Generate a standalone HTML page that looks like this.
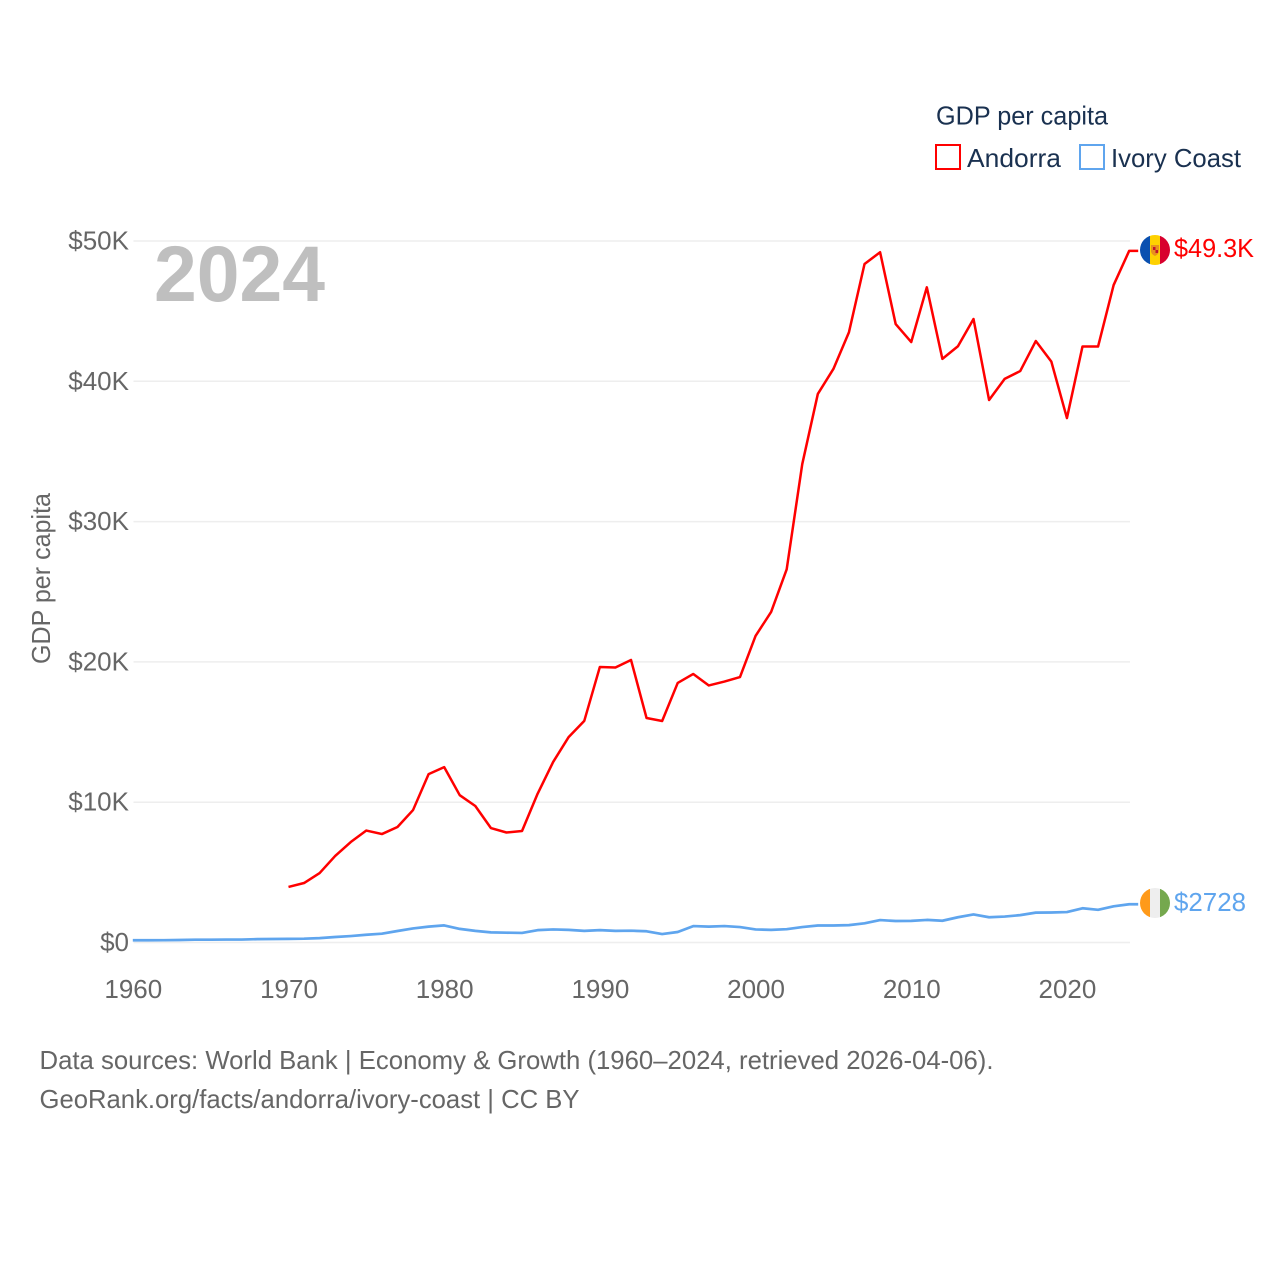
<!DOCTYPE html>
<html lang="en">
<head>
<meta charset="utf-8">
<title>GDP per capita: Andorra and Ivory Coast</title>
<style>
html,body{margin:0;padding:0;background:#fff;width:1280px;height:1280px;overflow:hidden}
svg{display:block}
text{font-family:"Liberation Sans",sans-serif;font-size:26px}
</style>
</head>
<body>
<svg id="chart" xmlns="http://www.w3.org/2000/svg" width="1280" height="1280" viewBox="0 0 1280 1280">
  <g id="grid"></g>
  <g id="yticks"></g>
  <g id="xticks"></g>
  <text x="154" y="301" font-weight="700" fill="#bfbfbf" style="font-size:79px" textLength="171" lengthAdjust="spacingAndGlyphs">2024</text>
  <text transform="translate(50,664) rotate(-90)" fill="#666666" textLength="171" lengthAdjust="spacingAndGlyphs">GDP per capita</text>
  <g id="series"></g>

  <g>
    <text x="936" y="124.500" fill="#1a3150" textLength="172" lengthAdjust="spacingAndGlyphs">GDP per capita</text>
    <rect x="936" y="145" width="24" height="24" fill="none" stroke="#ff0000" stroke-width="2"/>
    <text x="967" y="167" fill="#1a3150" textLength="94" lengthAdjust="spacingAndGlyphs">Andorra</text>
    <rect x="1080" y="145" width="24" height="24" fill="none" stroke="#5fa5ee" stroke-width="2"/>
    <text x="1111" y="167" fill="#1a3150" textLength="130" lengthAdjust="spacingAndGlyphs">Ivory Coast</text>
  </g>

  <defs>
    <clipPath id="flag-clip-a"><circle cx="1155" cy="250" r="15"/></clipPath>
    <clipPath id="flag-clip-b"><circle cx="1155" cy="903" r="15"/></clipPath>
  </defs>
  <g id="flag-andorra" clip-path="url(#flag-clip-a)">
    <rect x="1140" y="235" width="10" height="30" fill="#0a50b0"/>
    <rect x="1150" y="235" width="10" height="30" fill="#fed100"/>
    <rect x="1160" y="235" width="10" height="30" fill="#d8002e"/>
    <path d="M1151 245h8v6q0 3-4 5q-4-2-4-5z" fill="#e8901e"/>
    <rect x="1153" y="247" width="2.500" height="3" fill="#c0122c"/>
    <rect x="1155.500" y="250" width="2.500" height="3" fill="#c0122c"/>
  </g>
  <g id="flag-ivory" clip-path="url(#flag-clip-b)">
    <rect x="1140" y="888" width="10" height="30" fill="#ff9a1a"/>
    <rect x="1150" y="888" width="10" height="30" fill="#eeeeee"/>
    <rect x="1160" y="888" width="10" height="30" fill="#75a84e"/>
  </g>

  <text id="label-a" x="1174" y="257" fill="#ff0000" textLength="80" lengthAdjust="spacingAndGlyphs"></text>
  <text id="label-b" x="1174" y="911" fill="#5fa5ee" textLength="72" lengthAdjust="spacingAndGlyphs"></text>

  <text x="39.500" y="1069" fill="#666666" textLength="954" lengthAdjust="spacingAndGlyphs">Data sources: World Bank | Economy &amp; Growth (1960–2024, retrieved 2026-04-06).</text>
  <text x="39.500" y="1108" fill="#666666" textLength="540" lengthAdjust="spacingAndGlyphs">GeoRank.org/facts/andorra/ivory-coast | CC BY</text>
</svg>

<script>
const years = [1960,1961,1962,1963,1964,1965,1966,1967,1968,1969,1970,1971,1972,1973,1974,1975,1976,1977,1978,1979,1980,1981,1982,1983,1984,1985,1986,1987,1988,1989,1990,1991,1992,1993,1994,1995,1996,1997,1998,1999,2000,2001,2002,2003,2004,2005,2006,2007,2008,2009,2010,2011,2012,2013,2014,2015,2016,2017,2018,2019,2020,2021,2022,2023,2024];
const andorraValues = [null,null,null,null,null,null,null,null,null,null,3960,4240,4950,6170,7160,7980,7730,8230,9440,12000,12500,10500,9730,8160,7840,7950,10600,12870,14650,15800,19640,19600,20140,16000,15790,18500,19140,18320,18600,18920,21850,23560,26600,34100,39100,40880,43500,48360,49200,44080,42800,46700,41600,42500,44440,38670,40170,40730,42870,41400,37380,42480,42480,46860,49300];
const ivoryCoastValues = [160,160,165,180,200,200,210,210,240,250,260,270,310,390,460,550,630,820,1000,1130,1220,970,830,720,700,680,880,930,900,830,880,830,840,800,600,750,1170,1130,1170,1100,930,900,950,1100,1210,1210,1240,1370,1600,1530,1540,1610,1550,1800,2000,1800,1850,1950,2130,2140,2170,2440,2330,2580,2728];
const yTickValues = [0,10000,20000,30000,40000,50000];
const yTickLabels = ["$0","$10K","$20K","$30K","$40K","$50K"];
const xTickValues = [1960,1970,1980,1990,2000,2010,2020];
const xTickLabels = ["1960","1970","1980","1990","2000","2010","2020"];
const andorraEndLabel = "$49.3K";
const ivoryCoastEndLabel = "$2728";

const NS = "http://www.w3.org/2000/svg";
const X0 = 132.8, X1 = 1129.2, XMIN = 1960, XMAX = 2024;
const Y0 = 942.5, Y1 = 241, VMAX = 50000;
function x(year){ return X0 + (year - XMIN) * (X1 - X0) / (XMAX - XMIN); }
function y(v){ return Y0 - v * (Y0 - Y1) / VMAX; }
function make(tag, attrs, parent){
  const el = document.createElementNS(NS, tag);
  for (const k in attrs) el.setAttribute(k, attrs[k]);
  parent.appendChild(el);
  return el;
}

const gridG = document.getElementById('grid');
const yG = document.getElementById('yticks');
const xG = document.getElementById('xticks');
const seriesG = document.getElementById('series');

yTickValues.forEach(function(v, i){
  const ln = make('line', {x1: 133.5, x2: 1130, y1: y(v), y2: y(v), stroke: '#eeeeee', 'stroke-width': 1.500}, gridG);
  
  
  const t = make('text', {x: 129, y: y(v) + 8.500, 'text-anchor': 'end', fill: '#666666'}, yG);
  
  
  t.textContent = yTickLabels[i];
});

xTickValues.forEach(function(v, i){
  const t = make('text', {x: x(v) + 0.500, y: 998, 'text-anchor': 'middle', fill: '#666666'}, xG);
  
  
  t.textContent = xTickLabels[i];
});

function linePath(values){
  let d = '', pen = false, last = null;
  values.forEach(function(v, i){
    if (v === null) { pen = false; return; }
    d += (pen ? 'L' : 'M') + x(years[i]).toFixed(2) + ' ' + y(v).toFixed(2);
    pen = true;
    last = v;
  });
  d += 'L' + (x(XMAX) + 9).toFixed(2) + ' ' + y(last).toFixed(2);
  return d;
}

const ivoryLine = make('path', {d: linePath(ivoryCoastValues), fill: 'none', stroke: '#5fa5ee', 'stroke-width': 2.700, 'stroke-linejoin': 'round'}, seriesG);



const andorraLine = make('path', {d: linePath(andorraValues), fill: 'none', stroke: '#ff0000', 'stroke-width': 2.500, 'stroke-linejoin': 'round'}, seriesG);



document.getElementById('label-a').textContent = andorraEndLabel;
document.getElementById('label-b').textContent = ivoryCoastEndLabel;
</script>
</body>
</html>
